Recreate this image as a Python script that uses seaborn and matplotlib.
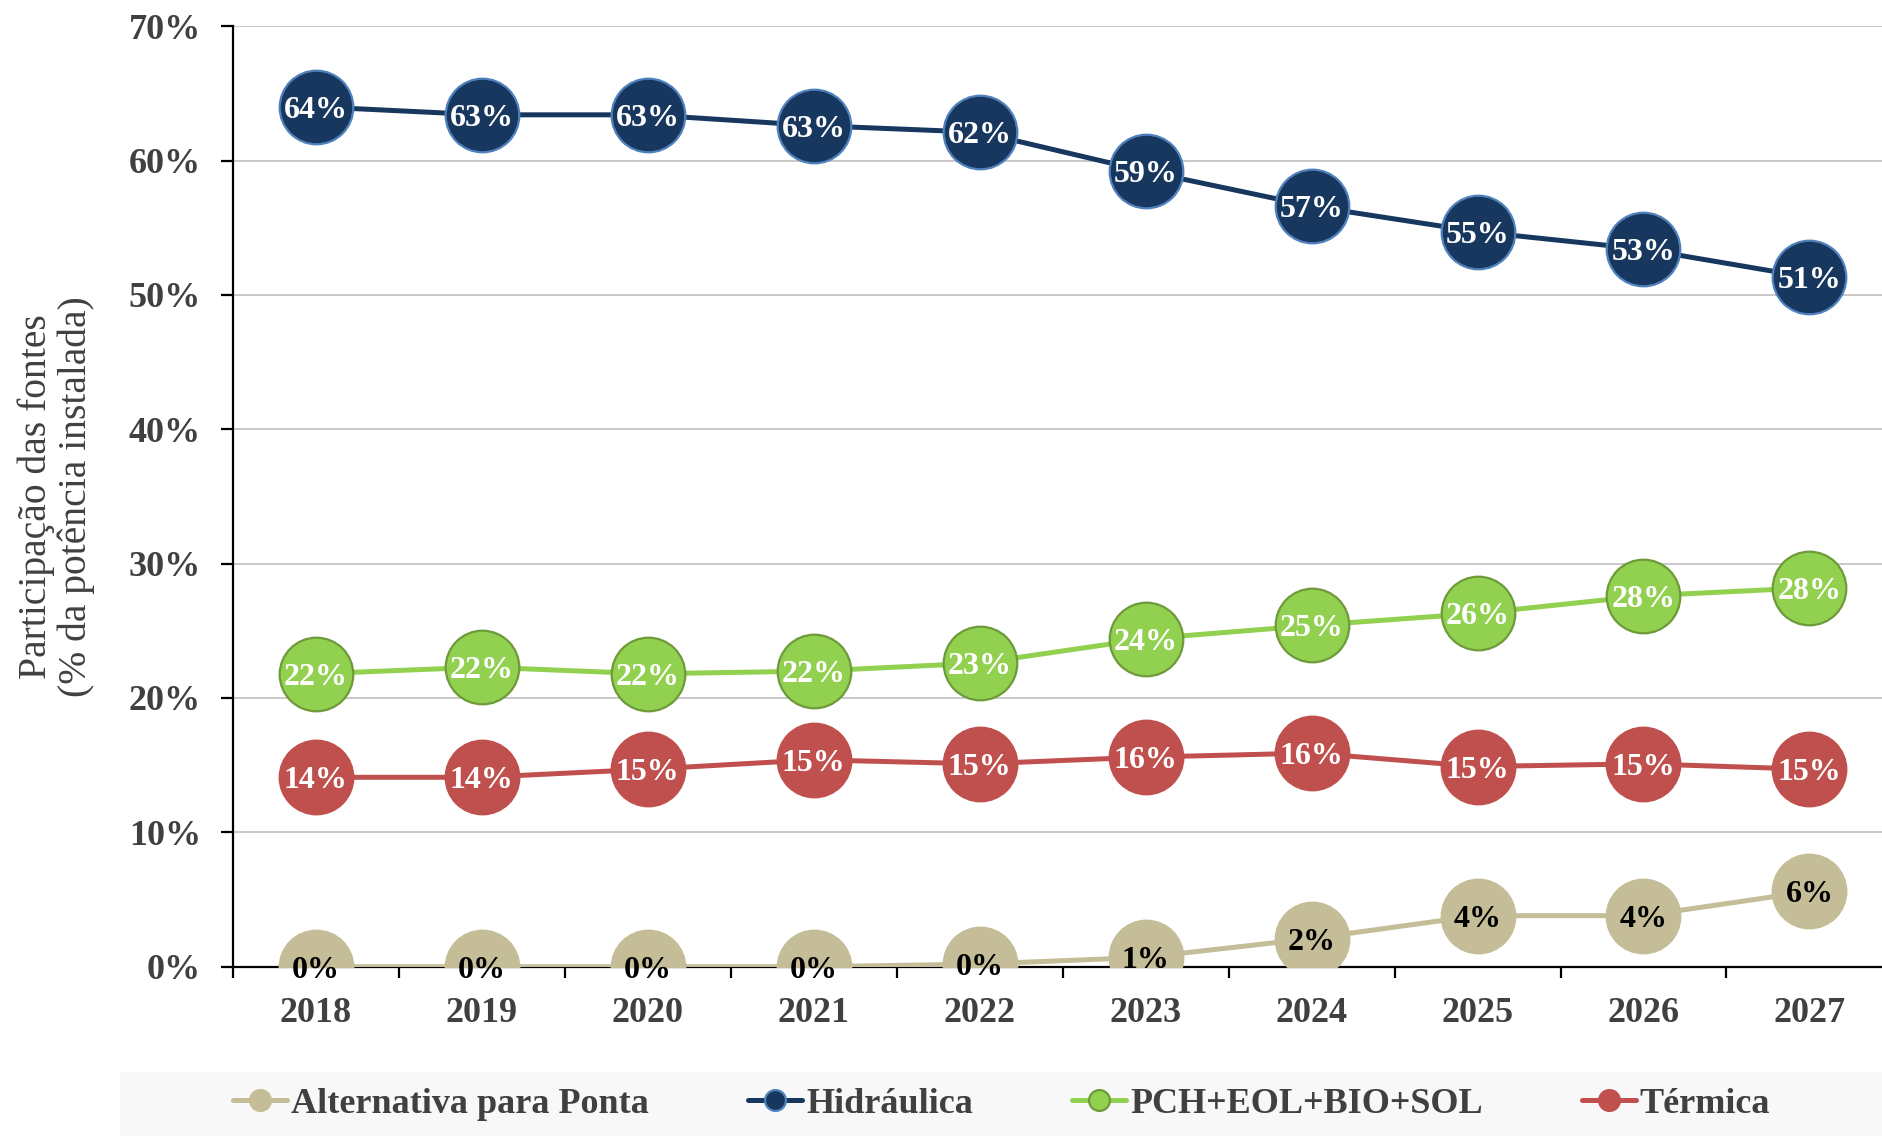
# Participação das fontes na potência instalada 2018-2027
import numpy as np
import pandas as pd
import matplotlib.pyplot as plt
import seaborn as sns
from matplotlib.patches import Rectangle
from matplotlib.ticker import FixedLocator, FuncFormatter

sns.set_theme(style="white")
plt.rcParams['font.family'] = ['Liberation Serif', 'DejaVu Serif']

# dados (% da potência instalada)
anos = [2018, 2019, 2020, 2021, 2022, 2023, 2024, 2025, 2026, 2027]
alternativa = [0.0, 0.0, 0.0, 0.0, 0.2, 0.7, 2.1, 3.8, 3.8, 5.6]
hidraulica = [64.0, 63.4, 63.4, 62.6, 62.1, 59.2, 56.6, 54.7, 53.4, 51.3]
pch_eol_bio_sol = [21.8, 22.3, 21.8, 22.0, 22.6, 24.4, 25.4, 26.3, 27.6, 28.2]
termica = [14.1, 14.1, 14.7, 15.4, 15.1, 15.6, 15.9, 14.9, 15.1, 14.7]

nomes = ["Alternativa para Ponta", "Hidráulica", "PCH+EOL+BIO+SOL", "Térmica"]
series = [alternativa, hidraulica, pch_eol_bio_sol, termica]
cores = ["#C4BD97", "#17375E", "#92D050", "#C0504D"]
bordas = ["#C4BD97", "#4F81BD", "#6E9A3A", "#C0504D"]
cor_rotulo = ["black", "white", "white", "white"]

cinza = "#404040"

fig = plt.figure(figsize=(18.83, 11.36), dpi=100)
ax = fig.add_axes([0.1237, 0.149, 0.8813, 0.828])

for nome, vals, c, ec, tc in zip(nomes, series, cores, bordas, cor_rotulo):
    sns.lineplot(x=anos, y=vals, ax=ax, color=c, linewidth=3.6, marker="o",
                 markersize=53, markeredgecolor=ec, markeredgewidth=1.6,
                 label=nome, zorder=3)
    for a, v in zip(anos, vals):
        ax.text(a, v, f"{round(v)}%", color=tc, fontsize=23, fontweight="bold",
                ha="center", va="center_baseline", zorder=5)

ax.legend_.remove()

# eixos
ax.set_xlim(2017.5, 2027.5)
ax.set_ylim(0, 70)
ax.set_yticks(np.arange(0, 71, 10))
ax.yaxis.set_major_formatter(FuncFormatter(lambda v, p: f"{int(v)}%"))
ax.set_xticks(anos)
ax.set_xticklabels([str(a) for a in anos])
ax.xaxis.set_minor_locator(FixedLocator(np.arange(2017.5, 2028, 1)))

for y in range(10, 71, 10):
    ax.axhline(y, color="#BFBFBF", linewidth=1.2, zorder=0)

sns.despine(ax=ax, top=True, right=True)
for s in ["left", "bottom"]:
    ax.spines[s].set_color("black")
    ax.spines[s].set_linewidth(1.6)

ax.tick_params(axis="y", which="major", direction="out", length=9, width=1.6,
               color="black", left=True, pad=14, labelsize=26, labelcolor=cinza)
ax.tick_params(axis="x", which="major", length=0, pad=22, labelsize=26, labelcolor=cinza)
ax.tick_params(axis="x", which="minor", direction="out", length=8, width=1.6,
               color="black", bottom=True)
for lab in ax.get_xticklabels() + ax.get_yticklabels():
    lab.set_fontweight("bold")

ax.set_xlabel("")
ax.set_ylabel("Participação das fontes\n(% da potência instalada)", fontsize=28.5,
              color=cinza, linespacing=1.1, labelpad=24)

# faixa da legenda
fig.patches.append(Rectangle((0.0637, 0.0), 0.95, 0.056, transform=fig.transFigure,
                             facecolor="#F8F8F8", edgecolor="none", zorder=0))

handles = [l for l in ax.get_lines() if l.get_label() in nomes]
leg = fig.legend(handles, nomes, loc="center", bbox_to_anchor=(0.532, 0.028),
                 ncol=4, frameon=False, handlelength=1.5,
                 handletextpad=0.1, columnspacing=2.75,
                 prop={"weight": "bold", "size": 26})
for h in leg.legend_handles:
    h.set_markersize(15)
for t in leg.get_texts():
    t.set_color(cinza)

fig.savefig("out.png", dpi=100)
